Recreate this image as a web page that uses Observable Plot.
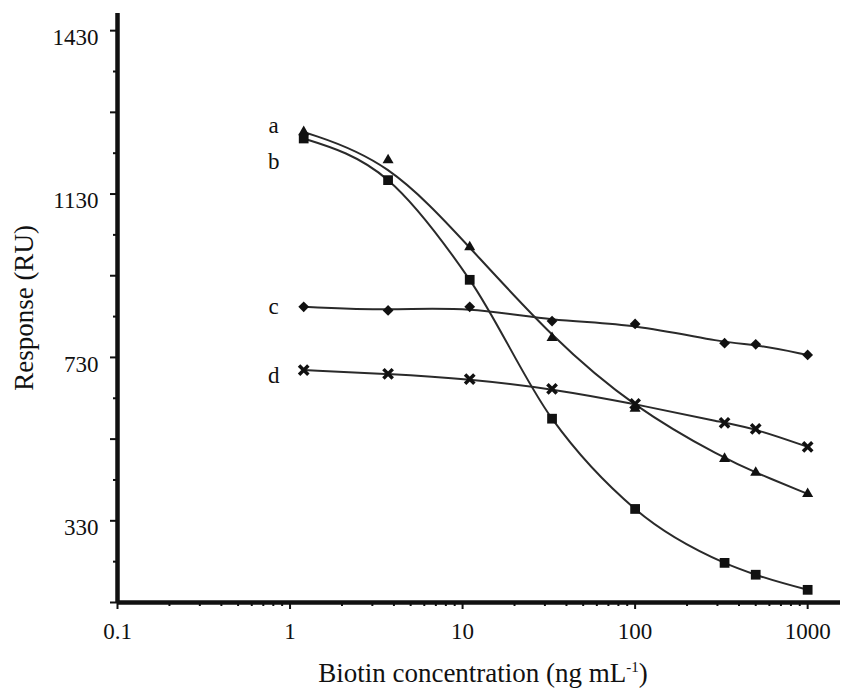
<!DOCTYPE html>
<html><head><meta charset="utf-8">
<script src="https://cdn.jsdelivr.net/npm/d3@7"></script>
<script src="https://cdn.jsdelivr.net/npm/@observablehq/plot@0.6"></script>
<style>
body{margin:0;background:#fff;}
#wrap{position:relative;width:846px;height:689px;background:#fff;overflow:hidden;}
#chart{position:absolute;left:0;top:0;}
#xt{position:absolute;left:483px;top:660px;transform:translateX(-50%);font-family:"Liberation Serif";font-size:27px;line-height:27px;white-space:nowrap;color:#111;}
#xt sup{font-size:15px;line-height:0;vertical-align:10px;}
</style>
</head><body>
<div id="wrap"><div id="chart"></div><div id="xt">Biotin concentration (ng mL<sup>-1</sup>)</div></div>
<script>
// Data
const concentrations = [1.2, 3.7, 11, 33, 100, 330, 500, 1000];
const seriesA = [1282, 1213, 1000, 778, 605, 482, 448, 396];
const seriesB = [1266, 1164, 920, 580, 359, 227, 198, 161];
const seriesC = [854, 845, 854, 819, 812, 765, 762, 736];
const seriesD = [699, 690, 677, 653, 616, 570, 555, 511];
const seriesNames = ["a", "b", "c", "d"];

const xTickValues = [0.1, 1, 10, 100, 1000];
const xTickLabels = ["0.1", "1", "10", "100", "1000"];
const yTickValues = [130, 330, 530, 730, 930, 1130, 1330, 1530];
const yTickLabels = ["", "330", "", "730", "", "1130", "", "1430"];
const yMinorValues = [230, 430, 630, 830, 1030, 1230, 1430];
const yTitle = "Response (RU)";

const xMinorValues = [];
for (const dec of [0.1, 1, 10, 100]) for (let k = 2; k <= 9; k++) xMinorValues.push(+(dec * k).toPrecision(3));

const allSeries = [seriesA, seriesB, seriesC, seriesD];
const rows = [];
allSeries.forEach((vals, i) => vals.forEach((v, j) => rows.push({series: seriesNames[i], x: concentrations[j], y: v})));
const firstPoints = rows.filter(r => r.x === concentrations[0]);

const symbolOf = {a: "triangle", b: "square", c: "square", d: "times"};
const rOf = {a: 4.1, b: 5.5, c: 4.3, d: 4.3};
const rotateOf = {a: 0, b: 0, c: 45, d: 0};
const curveOf = {a: "basis", b: "monotone-x", c: "basis", d: "basis"};
const labelDy = {a: -6, b: 23, c: 0, d: 6};

const plot = Plot.plot({
  width: 846, height: 650,
  marginLeft: 117, marginRight: 6, marginTop: 13, marginBottom: 48,
  style: {fontFamily: "Liberation Serif", fontSize: "23px", color: "#111", background: "#fff"},
  x: {type: "log", domain: [0.1, 1550]},
  y: {domain: [130, 1572]},
  marks: [
    Plot.axisX({ticks: xTickValues, tickSize: 7, strokeWidth: 2, tickFormat: () => "", label: null}),
    Plot.axisX({ticks: xMinorValues, tickSize: 4, strokeWidth: 2, tickFormat: () => "", label: null}),
    Plot.text(xTickValues, {x: d => d, text: (d, i) => xTickLabels[i], frameAnchor: "bottom",
      dy: 29, textAnchor: "middle", lineAnchor: "middle", fontSize: 23, fill: "#111"}),
    Plot.axisY({ticks: yTickValues, tickSize: 7, strokeWidth: 2, tickFormat: () => "", label: null}),
    Plot.axisY({ticks: yMinorValues, tickSize: 4, strokeWidth: 2, tickFormat: () => "", label: null}),
    Plot.text(yTickValues, {y: d => d, text: (d, i) => yTickLabels[i], frameAnchor: "left",
      dx: -19, dy: 7, textAnchor: "end", fontSize: 23, fill: "#111"}),
    Plot.text([yTitle], {frameAnchor: "left", rotate: -90, dx: -93, textAnchor: "middle",
      text: d => d, fontSize: 27, fill: "#111"}),
    Plot.ruleX([0.1], {stroke: "#111", strokeWidth: 4.5}),
    Plot.ruleY([130], {stroke: "#111", strokeWidth: 4.5}),
    ...seriesNames.map(s => Plot.line(rows.filter(r => r.series === s), {
      x: "x", y: "y", curve: curveOf[s], stroke: "#2a2a2a", strokeWidth: 2})),
    ...seriesNames.map(s => Plot.dot(rows.filter(r => r.series === s), {
      x: "x", y: "y", symbol: symbolOf[s], r: rOf[s], rotate: rotateOf[s],
      ...(symbolOf[s] === "times" ? {stroke: "#111", strokeWidth: 3.5, fill: "none"} : {fill: "#111", stroke: "none"})
    })),
    ...seriesNames.map(s => Plot.text(firstPoints.filter(r => r.series === s), {
      x: "x", y: "y", text: () => s, dx: -30, dy: labelDy[s], fontSize: 23, fill: "#111"
    }))
  ]
});
document.getElementById("chart").appendChild(plot);
</script>
</body></html>
